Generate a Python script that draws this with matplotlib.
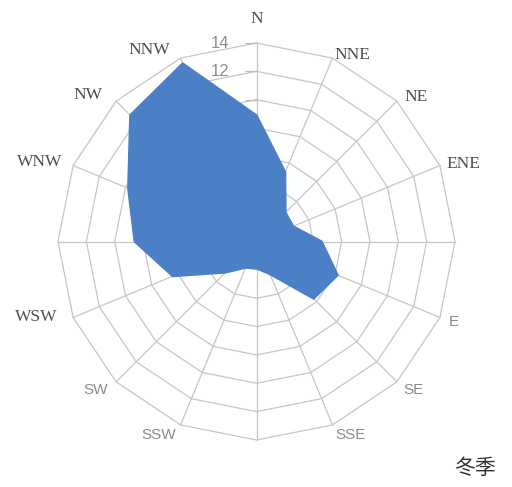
import numpy as np
import matplotlib
matplotlib.use("Agg")
import matplotlib.pyplot as plt

# Winter wind-direction frequency (16 compass points, clockwise from N)
directions = ["N", "NNE", "NE", "ENE", "E", "ESE", "SE", "SSE",
              "S", "SSW", "SW", "WSW", "W", "WNW", "NW", "NNW"]
frequency = [8.9, 5.3, 2.9, 2.8, 4.6, 6.2, 5.7, 2.5,
             1.9, 2.0, 3.1, 6.4, 8.6, 9.8, 12.6, 13.6]
# text shown at each spoke tip (some spokes carry no label)
spoke_labels = ["N", "NNE", "NE", "ENE", "", "E", "SE", "SSE",
                "", "SSW", "SW", "WSW", "", "WNW", "NW", "NNW"]
radial_levels = [0, 2, 4, 6, 8, 10, 12, 14]
season = "冬季"

serif_labels = {"N", "NNE", "NE", "ENE", "WSW", "WNW", "NW", "NNW"}
# pixel offsets of each label from its spoke tip, and horizontal alignment
label_offsets = {
    "N": (0, 24, "center"), "NNE": (2, 3, "left"), "NE": (8, 4, "left"),
    "ENE": (7, 2, "left"), "E": (9, -5, "left"), "SE": (6, -8, "left"),
    "SSE": (3, -10, "left"), "SSW": (-5, -10, "right"), "SW": (-8, -8, "right"),
    "WSW": (-16, 0, "right"), "WNW": (-11, 4, "right"), "NW": (-14, 6, "right"),
    "NNW": (-10, 8, "right"),
}

grid_color = "#c9c4c4"
fill_color = "#4b7fc6"

fig = plt.figure(figsize=(5.12, 4.87), dpi=100)
fig.patch.set_facecolor("white")
ax = fig.add_axes([0.1133, 0.0965, 0.7754, 0.8152], projection="polar")
ax.set_theta_zero_location("N")
ax.set_theta_direction(-1)
ax.set_ylim(0, max(radial_levels))
ax.set_axis_off()

n = len(directions)
theta = np.linspace(0, 2 * np.pi, n, endpoint=False)
theta_closed = np.append(theta, theta[0])

# polygonal rings and spokes
for lvl in radial_levels[1:]:
    ax.plot(theta_closed, [lvl] * (n + 1), color=grid_color, lw=0.9,
            zorder=1, clip_on=False)
for t in theta:
    ax.plot([t, t], [0, radial_levels[-1]], color=grid_color, lw=0.9,
            zorder=1, clip_on=False)

# value axis along N spoke
ax.plot([0] * len(radial_levels), radial_levels, linestyle="none",
        marker=0, markersize=9, markeredgecolor="#bdbdbd",
        markeredgewidth=0.9, zorder=2, clip_on=False)
for lvl in radial_levels:
    ax.annotate(str(lvl), xy=(0, lvl), xytext=(-27, 0),
                textcoords="offset pixels", ha="right", va="center",
                fontsize=12, family="Liberation Sans", color="#8c8c8c",
                zorder=2, annotation_clip=False)

# frequency area
vals_closed = np.append(frequency, frequency[0])
ax.fill(theta_closed, vals_closed, facecolor=fill_color,
        edgecolor=fill_color, lw=1.5, zorder=3)

# direction labels
for t, lab in zip(theta, spoke_labels):
    if not lab:
        continue
    dx, dy, ha = label_offsets[lab]
    if lab in serif_labels:
        kw = dict(family="Liberation Serif", fontsize=12.5, color="#4d4d4d")
    else:
        kw = dict(family="Liberation Sans", fontsize=11, color="#8a8a8a")
    ax.annotate(lab, xy=(t, radial_levels[-1]), xytext=(dx, dy),
                textcoords="offset pixels", ha=ha, va="center",
                annotation_clip=False, zorder=4, **kw)

fig.text(475 / 512, 1 - 468 / 487, season, ha="center", va="center",
         fontsize=15, family=["Noto Sans CJK SC", "DejaVu Sans"],
         color="#333333")

fig.savefig("out.png", dpi=100, facecolor="white")
